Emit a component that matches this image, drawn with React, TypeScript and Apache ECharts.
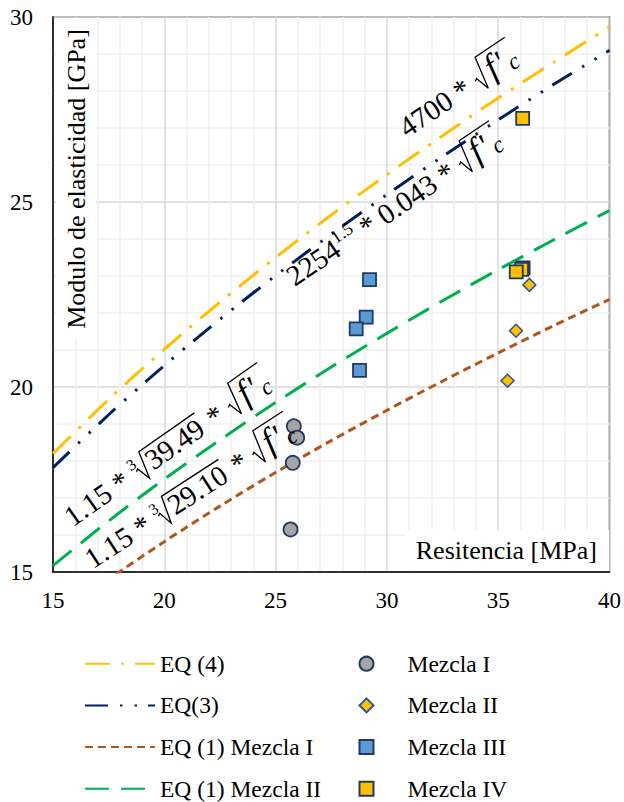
import React, { useEffect, useRef } from 'react';
import * as echarts from 'echarts';

const FONT = "'Liberation Serif', 'Times New Roman', serif";

// Curve samples (Resistencia MPa -> Modulo GPa)
const xSamples = [15, 17.5, 20, 22.5, 25, 27.5, 30, 32.5, 35, 37.5, 40];
const eq4 = [18.2, 19.66, 21.02, 22.29, 23.5, 24.65, 25.74, 26.79, 27.81, 28.78, 29.73];
const eq3 = [17.82, 19.25, 20.58, 21.83, 23.01, 24.13, 25.2, 26.23, 27.22, 28.18, 29.1];
const eq1MezclaI = [13.7, 14.8, 15.82, 16.78, 17.69, 18.55, 19.37, 20.16, 20.92, 21.66, 22.37];
const eq1MezclaII = [15.17, 16.38, 17.51, 18.57, 19.58, 20.54, 21.45, 22.33, 23.17, 23.98, 24.77];

// Measured points
const mezclaI = [[25.82, 18.94], [25.97, 18.63], [25.77, 17.95], [25.67, 16.15]];
const mezclaII = [[35.8, 21.52], [35.42, 20.17], [36.4, 22.76]];
const mezclaIII = [[29.22, 22.9], [29.07, 21.89], [28.62, 21.57], [28.77, 20.45]];
const mezclaIV = [[36.1, 27.26], [36.12, 23.22], [36.05, 23.18], [35.81, 23.11]];

const lineNames = ['EQ (4)', 'EQ(3)', 'EQ (1) Mezcla I', 'EQ (1) Mezcla II'];
const pointNames = ['Mezcla I', 'Mezcla II', 'Mezcla III', 'Mezcla IV'];

const xTitle = 'Resitencia [MPa]';
const yTitle = 'Modulo de elasticidad [GPa]';

type Tok =
  | { k: 't'; s: string; sc?: number; dy?: number; it?: boolean; dx?: number }
  | { k: 'r'; idx?: string; h?: number; body: Tok[] };

const fPrimeC: Tok[] = [
  { k: 't', s: 'f', it: true, sc: 1.2, dx: 0.05 },
  { k: 't', s: "'", it: true, sc: 1.15, dx: 0.06 },
  { k: 't', s: 'c', it: true, sc: 0.8, dy: 0.12, dx: 0.1 },
];

const eqLabels: { x: number; y: number; angle: number; tokens: Tok[] }[] = [
  { x: 30.91, y: 26.73, angle: 34, tokens: [{ k: 't', s: '4700 * ' }, { k: 'r', h: 1.0, body: fPrimeC }] },
  {
    x: 25.85, y: 22.71, angle: 34,
    tokens: [
      { k: 't', s: '2254' },
      { k: 't', s: '1.5', sc: 0.62, dy: -0.42 },
      { k: 't', s: ' * 0.043 * ' },
      { k: 'r', h: 1.0, body: fPrimeC },
    ],
  },
  {
    x: 15.88, y: 16.21, angle: 35,
    tokens: [
      { k: 't', s: '1.15 * ' },
      { k: 'r', idx: '3', h: 0.82, body: [{ k: 't', s: '39.49' }] },
      { k: 't', s: ' * ' },
      { k: 'r', h: 1.0, body: fPrimeC },
    ],
  },
  {
    x: 16.78, y: 15.07, angle: 33,
    tokens: [
      { k: 't', s: '1.15 * ' },
      { k: 'r', idx: '3', h: 0.82, body: [{ k: 't', s: '29.10' }] },
      { k: 't', s: ' * ' },
      { k: 'r', h: 1.0, body: fPrimeC },
    ],
  },
];

const EQ_FS = 29;

function buildTokens(ctx: CanvasRenderingContext2D, toks: Tok[], fs: number, x0: number, out: any[]): number {
  let x = x0;
  for (const tok of toks) {
    if (tok.k === 't') {
      const sz = fs * (tok.sc ?? 1);
      x += (tok.dx ?? 0) * fs;
      const base = (tok.dy ?? 0) * fs;
      ctx.font = `${tok.it ? 'italic ' : ''}${sz}px ${FONT}`;
      const w = ctx.measureText(tok.s).width;
      out.push({
        type: 'text', x, y: base - 0.3375 * sz, z: 20, silent: true,
        style: {
          text: tok.s, fontSize: sz, fontFamily: FONT, fontStyle: tok.it ? 'italic' : 'normal',
          fill: '#000', align: 'left', verticalAlign: 'middle',
        },
      });
      x += w;
    } else {
      let rx = x + 0.04 * fs;
      if (tok.idx) {
        const sz = fs * 0.55;
        ctx.font = `${sz}px ${FONT}`;
        const iw = ctx.measureText(tok.idx).width;
        out.push({
          type: 'text', x, y: -0.42 * fs - 0.3375 * sz, z: 20, silent: true,
          style: { text: tok.idx, fontSize: sz, fontFamily: FONT, fill: '#000', align: 'left', verticalAlign: 'middle' },
        });
        rx = x + iw * 0.55;
      }
      const H = (tok.h ?? 0.85) * fs;
      const bodyStart = rx + 0.5 * fs;
      const bodyEnd = buildTokens(ctx, tok.body, fs, bodyStart, out);
      out.push({
        type: 'polyline', z: 20, silent: true,
        shape: {
          points: [
            [rx, -0.3 * fs], [rx + 0.09 * fs, -0.36 * fs], [rx + 0.24 * fs, 0.14 * fs],
            [rx + 0.46 * fs, -H], [bodyEnd + 0.05 * fs, -H],
          ],
        },
        style: { stroke: '#000', lineWidth: 1.3, fill: null },
      });
      x = bodyEnd + 0.08 * fs;
    }
  }
  return x;
}

const lineSeries = (name: string, ys: number[], color: string, dash: number[]) => ({
  name,
  type: 'line',
  data: xSamples.map((x, i) => [x, ys[i]]),
  smooth: 0.3,
  symbol: 'none',
  clip: true,
  z: 3,
  itemStyle: { color },
  lineStyle: { color, width: 3, type: dash, cap: 'butt' },
});

const textStyle = { fontSize: 23.5, fontFamily: FONT, color: '#000', lineHeight: 24 };

const option: any = {
  animation: false,
  backgroundColor: '#fff',
  grid: { left: 53, right: 14, top: 17, bottom: 230, show: true, borderColor: '#404040', borderWidth: 1.5 },
  xAxis: {
    type: 'value', min: 15, max: 40, interval: 5,
    axisLine: { show: true, onZero: false, lineStyle: { color: '#000', width: 1.5 } },
    axisTick: { show: false },
    axisLabel: { fontSize: 23, fontFamily: FONT, color: '#000', margin: 17, lineHeight: 23 },
    splitLine: { show: true, lineStyle: { color: '#d9d9d9', width: 1.5 } },
    minorTick: { show: false, splitNumber: 5 },
    minorSplitLine: { show: true, lineStyle: { color: '#efefef', width: 1.5 } },
  },
  yAxis: {
    type: 'value', min: 15, max: 30, interval: 5,
    axisLine: { show: true, onZero: false, lineStyle: { color: '#000', width: 1.5 } },
    axisTick: { show: false },
    axisLabel: { fontSize: 23, fontFamily: FONT, color: '#000', margin: 20 },
    splitLine: { show: true, lineStyle: { color: '#d9d9d9', width: 1.5 } },
    minorTick: { show: false, splitNumber: 5 },
    minorSplitLine: { show: true, lineStyle: { color: '#efefef', width: 1.5 } },
  },
  legend: [
    {
      orient: 'vertical', left: 84, top: 651.7, padding: 0, itemWidth: 70, itemHeight: 14, itemGap: 17.7,
      data: lineNames, textStyle, selectedMode: false,
      itemStyle: { opacity: 0 },
    },
    {
      orient: 'vertical', left: 358.5, top: 651.7, padding: 0, itemWidth: 14, itemHeight: 14, itemGap: 17.7,
      data: pointNames, selectedMode: false,
      textStyle: { ...textStyle, padding: [0, 0, 0, 29] },
    },
  ],
  series: [
    lineSeries(lineNames[0], eq4, '#FFC000', [25, 11, 3, 11]),
    lineSeries(lineNames[1], eq3, '#002060', [23, 12, 2.5, 12, 2.5, 11]),
    lineSeries(lineNames[2], eq1MezclaI, '#B0561C', [8, 5]),
    lineSeries(lineNames[3], eq1MezclaII, '#00B050', [24, 12]),
    {
      name: pointNames[0], type: 'scatter', data: mezclaI, symbol: 'circle', symbolSize: 14, z: 5,
      itemStyle: { color: '#A5A5A5', borderColor: '#1F3864', borderWidth: 1.8, opacity: 1 },
    },
    {
      name: pointNames[1], type: 'scatter', data: mezclaII, symbol: 'diamond', symbolSize: 13, z: 5,
      itemStyle: { color: '#FFC000', borderColor: '#2F5597', borderWidth: 1.5, opacity: 1 },
    },
    {
      name: pointNames[2], type: 'scatter', data: mezclaIII, symbol: 'rect', symbolSize: 13, z: 5,
      itemStyle: { color: '#5B9BD5', borderColor: '#1F3864', borderWidth: 1.8, opacity: 1 },
    },
    {
      name: pointNames[3], type: 'scatter', data: mezclaIV, symbol: 'rect', symbolSize: 13, z: 5,
      itemStyle: { color: '#FFC000', borderColor: '#1F3864', borderWidth: 1.8, opacity: 1 },
    },
  ],
};

export default function App() {
  const ref = useRef<HTMLDivElement>(null);
  useEffect(() => {
    document.body.style.margin = '0';
    const el = ref.current!;
    const chart = echarts.init(el, undefined, { renderer: 'svg' });
    chart.setOption(option);
    const ctx = document.createElement('canvas').getContext('2d')!;
    const graphics: any[] = [
      {
        type: 'text', x: 76, y: 179, rotation: Math.PI / 2, z: 1, silent: true,
        style: {
          text: yTitle, fontSize: 26, fontFamily: FONT, fill: '#000', align: 'center', verticalAlign: 'middle',
          lineHeight: 28, backgroundColor: '#fff', padding: [6, 10, 6, 10],
        },
      },
      {
        type: 'text', x: 609, y: 550.5, z: 1, silent: true,
        style: {
          text: xTitle, fontSize: 26, fontFamily: FONT, fill: '#000', align: 'right', verticalAlign: 'middle',
          lineHeight: 28, backgroundColor: '#fff', padding: [7, 12, 6, 10],
        },
      },
    ];
    for (const a of eqLabels) {
      const p = chart.convertToPixel({ gridIndex: 0 }, [a.x, a.y]) as number[];
      const children: any[] = [];
      buildTokens(ctx, a.tokens, EQ_FS, 0, children);
      graphics.push({ type: 'group', x: p[0], y: p[1], rotation: (a.angle * Math.PI) / 180, z: 20, children });
    }
    chart.setOption({ graphic: graphics });
    return () => chart.dispose();
  }, []);
  return <div ref={ref} style={{ width: 624, height: 802 }} />;
}
